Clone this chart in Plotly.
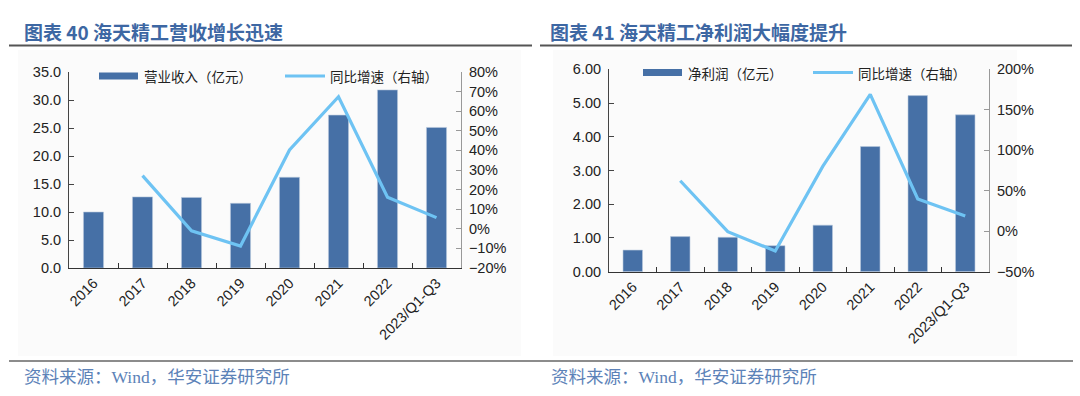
import plotly.graph_objects as go

W, H = 1080, 396

categories = ["2016", "2017", "2018", "2019", "2020", "2021", "2022", "2023/Q1-Q3"]
revenue = [10.0, 12.7, 12.6, 11.55, 16.2, 27.3, 31.8, 25.1]
revenue_yoy = [None, 0.271, -0.01, -0.088, 0.402, 0.674, 0.161, 0.057]
profit = [0.64, 1.04, 1.02, 0.77, 1.38, 3.71, 5.22, 4.65]
profit_yoy = [None, 0.623, -0.006, -0.244, 0.80, 1.69, 0.398, 0.188]

title_left = "图表 40 海天精工营收增长迅速"
title_right = "图表 41 海天精工净利润大幅度提升"
legend_bar_left = "营业收入（亿元）"
legend_bar_right = "净利润（亿元）"
legend_line = "同比增速（右轴）"
source_text = "资料来源：Wind，华安证券研究所"

BAR = "#4670a6"
LINE = "#6ec3f3"
TXT = "#222222"
TITLE_C = "#3d67a3"
SRC_C = "#5c82b8"
TICKFONT = dict(family="Liberation Sans, Arial, sans-serif", size=14.5, color=TXT)
CJK = "Noto Sans CJK SC, sans-serif"


def px(x):
    return x / W


def py(y):
    return 1 - y / H


fig = go.Figure()

fig.add_trace(go.Bar(x=categories, y=revenue, marker=dict(color=BAR, line=dict(color="#b9c9de", width=0.6)),
                     width=0.41, xaxis="x", yaxis="y", showlegend=False))
fig.add_trace(go.Scatter(x=categories, y=revenue_yoy, mode="lines", line=dict(color=LINE, width=3.2),
                         xaxis="x", yaxis="y2", showlegend=False))
fig.add_trace(go.Bar(x=categories, y=profit, marker=dict(color=BAR, line=dict(color="#b9c9de", width=0.6)),
                     width=0.41, xaxis="x2", yaxis="y3", showlegend=False))
fig.add_trace(go.Scatter(x=categories, y=profit_yoy, mode="lines", line=dict(color=LINE, width=3.2),
                         xaxis="x2", yaxis="y4", showlegend=False))

xcommon = dict(type="category", tickson="boundaries", ticks="inside", ticklen=5, tickcolor="#333",
               showline=True, linecolor="#333", linewidth=1.2, showgrid=False, tickangle=-45,
               tickfont=TICKFONT, automargin=False)
ycommon = dict(ticks="inside", ticklen=5, showline=True, showgrid=False, zeroline=False,
               tickfont=TICKFONT, ticklabelstandoff=4, automargin=False)

fig.update_layout(
    width=W, height=H, margin=dict(l=0, r=0, t=0, b=0, autoexpand=False),
    paper_bgcolor="white", plot_bgcolor="rgba(0,0,0,0)",
    showlegend=False,
    xaxis=dict(domain=[px(69), px(461)], anchor="y", **xcommon),
    yaxis=dict(domain=[py(268), py(72)], anchor="x", range=[0, 35], dtick=5, tickformat=".1f",
               linecolor="#444", tickcolor="#444", **ycommon),
    yaxis2=dict(overlaying="y", side="right", anchor="x", range=[-0.2, 0.8], dtick=0.1, tickformat=".0%",
                linecolor="#999", tickcolor="#999", **ycommon),
    xaxis2=dict(domain=[px(609), px(989)], anchor="y3", **xcommon),
    yaxis3=dict(domain=[py(271.7), py(69.3)], anchor="x2", range=[0, 6], dtick=1, tickformat=".2f",
                linecolor="#444", tickcolor="#444", **ycommon),
    yaxis4=dict(overlaying="y3", side="right", anchor="x2", range=[-0.5, 2.0], dtick=0.5, tickformat=".0%",
                linecolor="#999", tickcolor="#999", **ycommon),
)

shapes = []
# panel backgrounds
for x0, x1 in [(18, 521), (553, 1017)]:
    shapes.append(dict(type="rect", xref="paper", yref="paper", x0=px(x0), x1=px(x1), y0=py(356), y1=py(50),
                       fillcolor="#fbfbfb", line=dict(width=0), layer="below"))
# title rules
for x0, x1 in [(9, 532), (540, 1072)]:
    shapes.append(dict(type="line", xref="paper", yref="paper", x0=px(x0), x1=px(x1), y0=py(45.5), y1=py(45.5),
                       line=dict(color="#555555", width=2)))
# source rules
for x0, x1 in [(9, 540), (540, 1073)]:
    shapes.append(dict(type="line", xref="paper", yref="paper", x0=px(x0), x1=px(x1), y0=py(361), y1=py(361),
                       line=dict(color="#666666", width=1.5)))

annotations = []
# legends (manual)
for (bx0, by, lx0, ly, bar_label) in [(99, 76, 285, 76, legend_bar_left), (643, 72.5, 813, 72.5, legend_bar_right)]:
    shapes.append(dict(type="rect", xref="paper", yref="paper", x0=px(bx0), x1=px(bx0 + 39), y0=py(by + 3.5),
                       y1=py(by - 3.5), fillcolor=BAR, line=dict(width=0)))
    shapes.append(dict(type="line", xref="paper", yref="paper", x0=px(lx0), x1=px(lx0 + 40), y0=py(ly), y1=py(ly),
                       line=dict(color=LINE, width=3)))
    annotations.append(dict(xref="paper", yref="paper", x=px(bx0 + 43), y=py(by), text=bar_label, showarrow=False,
                            xanchor="left", yanchor="middle", font=dict(family=CJK, size=13.5, color=TXT)))
    annotations.append(dict(xref="paper", yref="paper", x=px(lx0 + 43), y=py(ly), text=legend_line, showarrow=False,
                            xanchor="left", yanchor="middle", font=dict(family=CJK, size=13.5, color=TXT)))

# titles
for x, t in [(22, title_left), (548, title_right)]:
    annotations.append(dict(xref="paper", yref="paper", x=px(x), y=py(31), text="<b>" + t + "</b>", showarrow=False,
                            xanchor="left", yanchor="middle", font=dict(family=CJK, size=19, color=TITLE_C)))
# sources
for x in [22, 549]:
    annotations.append(dict(xref="paper", yref="paper", x=px(x), y=py(377), text=source_text, showarrow=False,
                            xanchor="left", yanchor="middle",
                            font=dict(family="Liberation Serif, Noto Sans CJK SC, serif", size=17.5, color=SRC_C)))

fig.update_layout(shapes=shapes, annotations=annotations)

fig.write_html("out.html", config={"displayModeBar": False},
               post_script="document.body.style.margin='0';document.body.style.overflow='hidden';")
